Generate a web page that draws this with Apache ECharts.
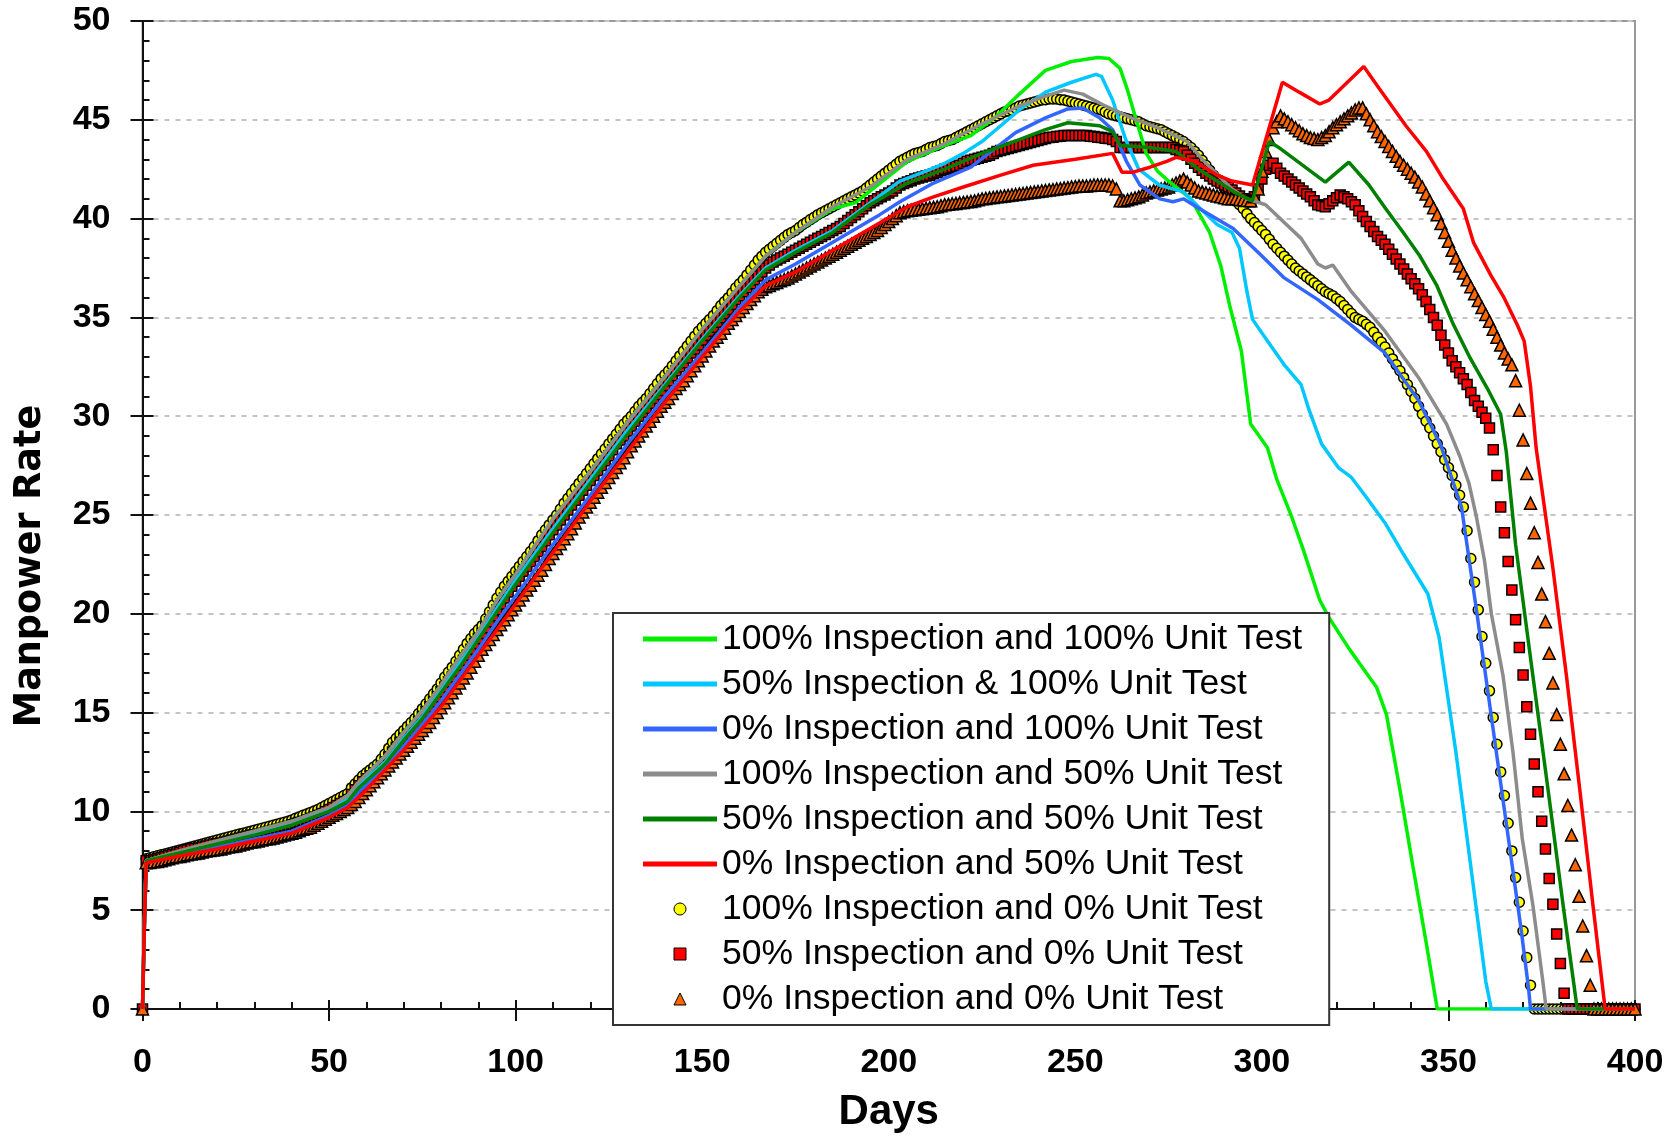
<!DOCTYPE html>
<html>
<head>
<meta charset="utf-8">
<title>Manpower Rate</title>
<script src="https://cdn.jsdelivr.net/npm/echarts@6/dist/echarts.min.js"></script>
<style>
  html, body { margin: 0; padding: 0; background: #fff; }
  #chart { width: 1679px; height: 1138px; }
</style>
</head>
<body>
<div id="chart"></div>
<script>
// axis ticks
let xTicks = [0, 50, 100, 150, 200, 250, 300, 350, 400]
let yTicks = [0, 5, 10, 15, 20, 25, 30, 35, 40, 45, 50]

let seriesNames = [
  '100% Inspection and 100% Unit Test',
  '50% Inspection & 100% Unit Test',
  '0% Inspection and 100% Unit Test',
  '100% Inspection and 50% Unit Test',
  '50% Inspection and 50% Unit Test',
  '0% Inspection and 50% Unit Test',
  '100% Inspection and 0% Unit Test',
  '50% Inspection and 0% Unit Test',
  '0% Inspection and 0% Unit Test'
]

// line series: [day, manpower rate]
let insp100ut100 = [[0,0],[0.5,4.2],[1,7.5],[10,8.0],[20,8.5],[30,9.0],[40,9.5],[50,10.2],[55,10.8],[58,11.5],[65,12.8],[70,14.0],[75,15.1],[80,16.4],[85,17.8],[90,19.1],[95,20.7],[100,22.0],[110,24.8],[120,27.2],[130,29.7],[140,32.0],[150,34.4],[160,36.6],[167,38.1],[175,39.3],[185,40.5],[191,40.8],[197,41.7],[205,42.9],[215,43.7],[222,44.2],[229,45.2],[235,46.3],[242,47.5],[249,47.95],[256,48.15],[259,48.1],[262,47.6],[264,46.5],[266,45.2],[269,43.3],[272,42.4],[275,41.9],[281,41.0],[286,39.3],[289,37.6],[291.5,35.5],[294.5,33.3],[297,29.6],[301.5,28.4],[304,26.8],[308,24.9],[311,23.3],[315.5,20.7],[318,19.8],[323.5,18.2],[328,17.0],[330.7,16.3],[333.4,14.9],[337,11.1],[340.5,7.2],[344,3.4],[347,0],[400,0]]

let insp50ut100 = [[0,0],[0.5,4.2],[1,7.5],[10,7.9],[20,8.4],[30,8.85],[40,9.35],[50,10.1],[55,10.6],[58,11.3],[65,12.5],[70,13.7],[75,14.8],[80,16.1],[85,17.5],[90,18.8],[95,20.3],[100,21.7],[110,24.3],[120,26.8],[130,29.3],[140,31.6],[150,33.9],[160,36.1],[167,37.5],[175,38.4],[185,39.4],[195,40.8],[203,41.9],[210,42.4],[215,42.8],[220,43.3],[225,43.9],[230,44.7],[235,45.5],[242,46.4],[249,46.9],[255.5,47.3],[257,47.2],[260,46.0],[263.5,44.0],[267,42.5],[272.5,41.7],[279,41.35],[283,40.6],[288,39.7],[292,39.3],[294,38.5],[296,36.3],[297.5,34.9],[301.5,33.8],[306,32.6],[310.5,31.6],[312.5,30.4],[316,28.6],[320.5,27.4],[324,26.9],[328,25.9],[333,24.6],[338,23.0],[344.5,21.0],[347.5,18.8],[352,13.0],[356,7.2],[360,1.4],[361.5,0],[400,0]]

let insp0ut100 = [[0,0],[0.5,4.2],[1,7.4],[10,7.8],[20,8.2],[30,8.6],[40,9.0],[50,9.8],[55,10.3],[58,11.0],[65,12.2],[70,13.3],[75,14.4],[80,15.6],[85,16.9],[90,18.2],[95,19.6],[100,20.9],[110,23.5],[120,26.0],[130,28.6],[140,31.0],[150,33.2],[160,35.5],[167,36.9],[175,37.7],[185,38.8],[197.6,40.2],[203,40.85],[212,41.8],[222,42.6],[234,44.35],[242,45.1],[248,45.55],[252,45.6],[256.5,45.1],[260,44.5],[263.7,42.9],[267.3,41.7],[272.6,41.0],[276.2,40.85],[279,41.0],[283.3,40.5],[292.3,39.5],[299.8,38.15],[306,37.0],[315,35.9],[324,34.6],[333,33.2],[342,30.8],[348,28.5],[353.5,25.4],[357.5,20.2],[361.5,14.8],[365.5,9.4],[369.5,4.0],[371.5,1.0],[372,0],[400,0]]

let insp100ut50 = [[0,0],[0.5,4.2],[1,7.5],[10,8.0],[20,8.5],[30,9.0],[40,9.5],[50,10.2],[55,10.8],[58,11.5],[65,12.8],[70,14.0],[75,15.1],[80,16.4],[85,17.8],[90,19.1],[95,20.7],[100,22.0],[110,24.8],[120,27.2],[130,29.7],[140,32.0],[150,34.4],[160,36.6],[167,38.1],[175,39.3],[185,40.6],[195,41.6],[205,43.0],[215,43.8],[225,44.8],[235,45.7],[242,46.2],[247,46.5],[252,46.3],[258,45.7],[265,45.1],[272,44.6],[280,43.9],[285,42.8],[292,41.5],[296,41.0],[301,40.7],[306,39.8],[310.5,39.0],[315,37.7],[317,37.5],[319,37.65],[324,36.3],[333,34.3],[342,31.95],[349.5,29.6],[353,28.0],[355.5,26.6],[357.5,24.9],[359.7,22.65],[361.5,20.0],[364.6,16.9],[367.3,13.0],[369.8,8.6],[372.6,5.3],[375.3,1.4],[376.2,0],[400,0]]

let insp50ut50 = [[0,0],[0.5,4.2],[1,7.5],[10,7.9],[20,8.35],[30,8.8],[40,9.3],[50,10.0],[55,10.5],[58,11.2],[65,12.4],[70,13.6],[75,14.7],[80,16.0],[85,17.3],[90,18.7],[95,20.1],[100,21.5],[110,24.1],[120,26.6],[130,29.1],[140,31.5],[150,33.8],[160,36.0],[167,37.4],[175,38.3],[185,39.3],[195,40.7],[205,41.8],[215,42.5],[225,43.3],[235,44.0],[242,44.5],[248,44.85],[256.5,44.7],[260,44.4],[262,43.7],[270,43.6],[277,43.4],[283,42.5],[288,41.9],[293,41.3],[297.5,40.9],[302,43.9],[304.5,43.6],[317,41.85],[323.3,42.86],[328.7,41.7],[333.2,40.5],[337.7,39.35],[342.2,38.15],[346.8,36.65],[351.3,34.65],[355.8,32.95],[360.3,31.45],[364,30.1],[365.5,28.2],[368,23.5],[372.6,16.9],[376.7,11.1],[380.7,5.3],[384.3,0.3],[384.6,0],[400,0]]

let insp0ut50 = [[0,0],[0.5,4.2],[1,7.4],[10,7.75],[20,8.1],[30,8.5],[40,8.9],[50,9.7],[55,10.2],[60,11.1],[70,13.1],[80,15.3],[90,17.9],[100,20.5],[110,23.1],[120,25.7],[130,28.2],[140,30.7],[150,33.0],[160,35.3],[167,36.6],[175,37.3],[185,38.4],[195,39.5],[205,40.6],[212,41.1],[220,41.6],[230,42.2],[238.7,42.7],[250,43.0],[260,43.3],[262.5,42.35],[265.5,42.35],[270,42.6],[274.5,42.9],[277,43.1],[282,42.9],[288,42.2],[292,41.9],[297.5,41.7],[305.5,46.9],[310,46.4],[315.5,45.8],[318,46.0],[327.3,47.7],[331.4,46.6],[338.6,44.7],[344.1,43.4],[348.6,42.0],[354,40.5],[356.7,38.8],[361.3,37.15],[364.9,36.0],[368.5,34.6],[370.3,33.8],[372,31.5],[373.5,28.4],[378,22.3],[381.6,16.9],[385.2,11.1],[388.7,5.3],[392,0],[400,0]]

// marker series: one value per day, index = day (0..400)
let insp100ut0 = [0,
  7.6,7.65,7.7,7.75,7.8,7.85,7.9,7.95,8.0,8.05,
  8.1,8.15,8.2,8.25,8.3,8.35,8.4,8.45,8.5,8.55,
  8.6,8.65,8.7,8.75,8.8,8.85,8.9,8.95,9.0,9.05,
  9.1,9.15,9.2,9.25,9.3,9.35,9.4,9.45,9.5,9.57,
  9.65,9.72,9.8,9.87,9.95,10.02,10.1,10.2,10.3,10.4,
  10.5,10.6,10.7,10.8,10.9,11.2,11.4,11.6,11.8,11.95,
  12.1,12.25,12.4,12.65,12.9,13.2,13.5,13.7,13.9,14.1,
  14.3,14.5,14.7,14.95,15.2,15.45,15.7,15.95,16.2,16.5,
  16.8,17.05,17.3,17.6,17.9,18.2,18.5,18.75,19.0,19.2,
  19.4,19.75,20.1,20.45,20.8,21.1,21.4,21.65,21.9,22.15,
  22.4,22.65,22.9,23.15,23.4,23.7,24.0,24.25,24.5,24.75,
  25.0,25.3,25.6,25.85,26.1,26.35,26.6,26.85,27.1,27.35,
  27.6,27.85,28.1,28.35,28.6,28.85,29.1,29.35,29.6,29.8,
  30.0,30.25,30.5,30.7,30.9,31.15,31.4,31.65,31.9,32.1,
  32.3,32.55,32.8,33.05,33.3,33.55,33.8,34.05,34.3,34.5,
  34.7,34.9,35.1,35.35,35.6,35.8,36.0,36.25,36.5,36.7,
  36.9,37.15,37.4,37.65,37.9,38.1,38.3,38.45,38.6,38.75,
  38.9,39.05,39.2,39.3,39.4,39.55,39.7,39.82,39.95,40.07,
  40.2,40.3,40.4,40.5,40.6,40.7,40.8,40.9,41.0,41.1,
  41.2,41.3,41.4,41.55,41.7,41.85,42.0,42.15,42.3,42.45,
  42.6,42.75,42.9,43.0,43.1,43.2,43.3,43.35,43.4,43.5,
  43.6,43.65,43.7,43.8,43.9,43.95,44.0,44.1,44.2,44.3,
  44.4,44.5,44.6,44.7,44.8,44.9,45.0,45.1,45.2,45.3,
  45.4,45.45,45.5,45.6,45.7,45.75,45.8,45.85,45.9,45.95,
  46.0,46.02,46.05,46.05,46.05,46.02,46.0,45.95,45.9,45.85,
  45.8,45.75,45.7,45.65,45.6,45.55,45.5,45.4,45.3,45.25,
  45.2,45.15,45.1,45.05,45.0,44.95,44.9,44.8,44.7,44.65,
  44.6,44.55,44.5,44.4,44.3,44.2,44.1,44.0,43.9,43.75,
  43.6,43.4,43.2,42.95,42.7,42.45,42.2,42.0,41.8,41.55,
  41.3,41.1,40.9,40.7,40.5,40.25,40.0,39.8,39.6,39.4,
  39.2,38.95,38.7,38.5,38.3,38.1,37.9,37.7,37.5,37.35,
  37.2,37.05,36.9,36.75,36.6,36.45,36.3,36.2,36.1,35.95,
  35.8,35.6,35.4,35.2,35.0,34.9,34.8,34.65,34.5,34.25,
  34.0,33.75,33.5,33.2,32.9,32.6,32.3,31.95,31.6,31.25,
  30.9,30.5,30.1,29.75,29.4,29.0,28.6,28.2,27.8,27.4,
  27.0,26.5,26.0,25.4,24.2,22.8,21.6,20.2,18.85,17.5,
  16.1,14.75,13.4,12.0,10.8,9.4,8.0,6.65,5.4,3.95,
  2.6,1.2,0,0,0,0,0,0,0,0,
  0,0,0,0,0,0,0,0,0,0,
  0,0,0,0,0,0,0,0,0,0]

let insp50ut0 = [0,
  7.5,7.52,7.55,7.6,7.65,7.7,7.75,7.8,7.85,7.92,
  8.0,8.05,8.1,8.12,8.15,8.2,8.25,8.3,8.35,8.37,
  8.4,8.45,8.5,8.55,8.6,8.65,8.7,8.75,8.8,8.82,
  8.85,8.9,8.95,9.0,9.05,9.1,9.15,9.2,9.25,9.32,
  9.4,9.45,9.5,9.57,9.65,9.72,9.8,9.9,10.0,10.1,
  10.2,10.3,10.4,10.5,10.6,10.85,11.1,11.3,11.5,11.65,
  11.8,11.95,12.1,12.3,12.5,12.75,13.0,13.25,13.5,13.7,
  13.9,14.1,14.3,14.55,14.8,15.05,15.3,15.55,15.8,16.05,
  16.3,16.55,16.8,17.1,17.4,17.65,17.9,18.2,18.5,18.75,
  19.0,19.3,19.6,19.9,20.2,20.5,20.8,21.1,21.4,21.65,
  21.9,22.15,22.4,22.65,22.9,23.15,23.4,23.7,24.0,24.25,
  24.5,24.75,25.0,25.25,25.5,25.75,26.0,26.25,26.5,26.75,
  27.0,27.25,27.5,27.75,28.0,28.3,28.6,28.8,29.0,29.25,
  29.5,29.75,30.0,30.2,30.4,30.65,30.9,31.1,31.3,31.55,
  31.8,32.05,32.3,32.5,32.7,32.95,33.2,33.4,33.6,33.85,
  34.1,34.3,34.5,34.75,35.0,35.2,35.4,35.65,35.9,36.1,
  36.3,36.5,36.7,36.9,37.1,37.3,37.5,37.65,37.8,37.9,
  38.0,38.1,38.2,38.3,38.4,38.5,38.6,38.7,38.8,38.9,
  39.0,39.1,39.2,39.3,39.4,39.5,39.6,39.75,39.9,40.05,
  40.2,40.35,40.5,40.65,40.8,40.9,41.0,41.1,41.2,41.3,
  41.4,41.55,41.7,41.77,41.85,41.92,42.0,42.05,42.1,42.15,
  42.2,42.27,42.35,42.42,42.5,42.55,42.6,42.65,42.7,42.8,
  42.9,42.95,43.0,43.05,43.1,43.15,43.2,43.3,43.4,43.45,
  43.5,43.55,43.6,43.65,43.7,43.75,43.8,43.85,43.9,43.95,
  44.0,44.05,44.1,44.12,44.15,44.17,44.2,44.2,44.2,44.2,
  44.2,44.2,44.2,44.17,44.15,44.12,44.1,44.07,44.05,44.0,
  43.9,43.6,43.6,43.6,43.6,43.6,43.6,43.6,43.6,43.6,
  43.6,43.6,43.6,43.6,43.6,43.6,43.5,43.45,43.4,43.2,
  43.0,42.8,42.6,42.45,42.3,42.15,42.0,41.9,41.8,41.7,
  41.6,41.45,41.3,41.15,41.0,40.9,40.85,41.1,41.5,42.0,
  42.5,42.7,42.8,42.55,42.3,42.15,42.0,41.85,41.7,41.55,
  41.4,41.25,41.1,40.9,40.7,40.65,40.6,40.75,40.9,41.05,
  41.2,41.1,41.0,40.85,40.7,40.4,40.1,39.85,39.6,39.35,
  39.1,38.9,38.7,38.45,38.2,37.95,37.7,37.45,37.2,36.95,
  36.7,36.45,36.15,35.8,35.4,35.0,34.6,34.1,33.6,33.2,
  32.8,32.5,32.2,31.9,31.6,31.2,30.8,30.5,30.2,29.9,
  29.4,28.3,27.0,25.4,24.1,22.65,21.2,19.7,18.3,16.9,
  15.3,13.9,12.4,11.0,9.5,8.1,6.6,5.3,3.8,2.3,
  0.8,0,0,0,0,0,0,0,0,0,
  0,0,0,0,0,0,0,0,0,0]

let insp0ut0 = [0,
  7.4,7.42,7.45,7.47,7.5,7.55,7.6,7.65,7.7,7.72,
  7.75,7.8,7.85,7.87,7.9,7.95,8.0,8.02,8.05,8.07,
  8.1,8.15,8.2,8.22,8.25,8.3,8.35,8.4,8.45,8.47,
  8.5,8.55,8.6,8.62,8.65,8.7,8.75,8.8,8.85,8.9,
  8.95,9.02,9.1,9.15,9.2,9.3,9.4,9.5,9.6,9.7,
  9.8,9.9,10.0,10.1,10.2,10.35,10.5,10.7,10.9,11.1,
  11.3,11.5,11.7,11.9,12.1,12.3,12.5,12.7,12.9,13.1,
  13.3,13.5,13.7,13.9,14.1,14.3,14.5,14.75,15.0,15.25,
  15.5,15.75,16.0,16.25,16.5,16.75,17.0,17.3,17.6,17.9,
  18.2,18.45,18.7,18.95,19.2,19.45,19.7,19.95,20.2,20.45,
  20.7,20.95,21.2,21.45,21.7,21.95,22.2,22.5,22.8,23.05,
  23.3,23.55,23.8,24.05,24.3,24.6,24.9,25.15,25.4,25.65,
  25.9,26.15,26.4,26.65,26.9,27.15,27.4,27.65,27.9,28.2,
  28.5,28.75,29.0,29.25,29.5,29.75,30.0,30.25,30.5,30.7,
  30.9,31.15,31.4,31.6,31.8,32.05,32.3,32.55,32.8,33.05,
  33.3,33.55,33.8,34.0,34.2,34.45,34.7,34.9,35.1,35.3,
  35.5,35.7,35.9,36.1,36.3,36.42,36.55,36.62,36.7,36.77,
  36.85,36.92,37.0,37.1,37.2,37.3,37.4,37.5,37.6,37.7,
  37.8,37.9,38.0,38.1,38.2,38.3,38.4,38.5,38.6,38.7,
  38.8,38.9,39.0,39.1,39.2,39.3,39.4,39.55,39.7,39.85,
  40.0,40.15,40.3,40.35,40.4,40.42,40.45,40.47,40.5,40.52,
  40.55,40.57,40.6,40.65,40.7,40.72,40.75,40.77,40.8,40.82,
  40.85,40.87,40.9,40.95,41.0,41.02,41.05,41.07,41.1,41.12,
  41.15,41.17,41.2,41.22,41.25,41.27,41.3,41.32,41.35,41.37,
  41.4,41.42,41.45,41.47,41.5,41.52,41.55,41.57,41.6,41.62,
  41.65,41.65,41.65,41.67,41.7,41.7,41.7,41.7,41.7,41.65,
  41.5,40.9,40.9,40.95,41.0,41.05,41.1,41.2,41.3,41.35,
  41.4,41.45,41.5,41.55,41.6,41.7,41.8,41.9,42.0,41.85,
  41.7,41.55,41.4,41.35,41.3,41.25,41.2,41.15,41.1,41.05,
  41.0,41.0,41.0,40.97,40.95,40.92,40.9,41.1,41.5,42.4,
  43.4,44.0,44.6,44.9,45.2,45.05,44.9,44.75,44.6,44.45,
  44.3,44.2,44.1,44.05,44.0,44.1,44.2,44.4,44.6,44.75,
  44.9,45.05,45.2,45.35,45.5,45.6,45.6,45.3,45.0,44.7,
  44.4,44.15,43.9,43.65,43.4,43.15,42.9,42.7,42.5,42.3,
  42.1,41.85,41.6,41.25,40.9,40.55,40.2,39.75,39.3,38.85,
  38.4,38.0,37.6,37.25,36.9,36.55,36.2,35.85,35.5,35.15,
  34.8,34.4,34.0,33.6,33.2,32.9,32.6,31.8,30.3,28.8,
  27.1,25.6,24.1,22.6,21.0,19.6,18.0,16.5,14.9,13.4,
  11.9,10.3,8.8,7.3,5.7,4.2,2.7,1.2,0,0,
  0,0,0,0,0,0,0,0,0,0]

let lineColors = ['#00ee00', '#00c8ff', '#3366ff', '#8c8c8c', '#008000', '#ff0000']
let markerColors = ['#ffff00', '#ff0000', '#ff6600']
let markerShapes = ['circle', 'rect', 'triangle']
let markerSizes = [10, 10, 12]

let lineData = [insp100ut100, insp50ut100, insp0ut100, insp100ut50, insp50ut50, insp0ut50]
let markerData = [insp100ut0, insp50ut0, insp0ut0]

let myChart = echarts.init(document.getElementById('chart'))

let series = []
lineData.forEach(function (d, i) {
  series.push({
    name: seriesNames[i],
    type: 'line',
    data: d,
    symbol: 'none',
    color: lineColors[i],
    lineStyle: { width: 3.5, color: lineColors[i] },
    itemStyle: { color: lineColors[i], borderWidth: 0 },
    animation: false
  })
})
markerData.forEach(function (vals, i) {
  series.push({
    name: seriesNames[6 + i],
    type: 'scatter',
    data: vals.map(function (v, day) { return [day, v] }),
    symbol: markerShapes[i],
    symbolSize: markerSizes[i],
    itemStyle: { color: markerColors[i], borderColor: '#000', borderWidth: 1.5, opacity: 1 },
    animation: false
  })
})

let lineIcon = 'path://M0,0L74,0L74,5L0,5Z'
let legendIcons = [lineIcon, lineIcon, lineIcon, lineIcon, lineIcon, lineIcon,
  'circle', 'path://M0,0L10,0L10,10L0,10Z', 'path://M6,0L12,12L0,12Z']
let legendData = seriesNames.map(function (n, i) {
  return {
    name: n,
    icon: legendIcons[i],
    itemStyle: i < 6 ? { borderWidth: 0 } : { borderWidth: 1, borderColor: '#000' }
  }
})

let tickFont = { fontFamily: '"Liberation Sans", Arial, sans-serif', fontWeight: 'bold', fontSize: 34, color: '#000' }

let option = {
  animation: false,
  backgroundColor: '#fff',
  grid: {
    left: 142.5, top: 21, width: 1492.5, height: 992.5,
    show: true, borderColor: '#999', borderWidth: 2, backgroundColor: 'transparent'
  },
  legend: {
    data: legendData,
    orient: 'vertical',
    left: 613,
    top: 613,
    padding: [8, 27, 8, 30],
    itemGap: 9,
    itemWidth: 74,
    itemHeight: 12,
    itemTextGap: 4,
    backgroundColor: '#fff',
    borderColor: '#333',
    borderWidth: 2,
    selectedMode: false,
    textStyle: { fontFamily: '"Liberation Sans", Arial, sans-serif', fontSize: 35.5, color: '#000' }
  },
  xAxis: [{
    type: 'value',
    min: xTicks[0],
    max: xTicks[xTicks.length - 1],
    interval: xTicks[1] - xTicks[0],
    position: 'bottom',
    name: 'Days',
    nameLocation: 'middle',
    nameGap: 82,
    nameTextStyle: { fontFamily: '"Liberation Sans", Arial, sans-serif', fontWeight: 'bold', fontSize: 42, color: '#000' },
    axisLine: { show: true, lineStyle: { color: '#111', width: 2 } },
    axisTick: { show: true, inside: true, length: 9, lineStyle: { color: '#111', width: 2 } },
    minorTick: { show: true, splitNumber: 5, length: 7, lineStyle: { color: '#111', width: 2 } },
    axisLabel: Object.assign({ margin: 37 }, tickFont),
    splitLine: { show: false }
  }, {
    type: 'value',
    min: xTicks[0],
    max: xTicks[xTicks.length - 1],
    interval: xTicks[1] - xTicks[0],
    position: 'bottom',
    axisLine: { show: false },
    axisTick: { show: true, inside: false, length: 12, lineStyle: { color: '#111', width: 2 } },
    axisLabel: { show: false },
    splitLine: { show: false }
  }],
  yAxis: [{
    type: 'value',
    min: yTicks[0],
    max: yTicks[yTicks.length - 1],
    interval: yTicks[1] - yTicks[0],
    position: 'left',
    axisLine: { show: true, lineStyle: { color: '#111', width: 2 } },
    axisTick: { show: true, inside: true, length: 11, lineStyle: { color: '#111', width: 2 } },
    minorTick: { show: true, splitNumber: 5, length: 7, lineStyle: { color: '#111', width: 2 } },
    axisLabel: Object.assign({ margin: 32 }, tickFont),
    splitLine: { show: true, lineStyle: { color: '#c4c4c4', width: 2, type: [5, 6] } }
  }, {
    type: 'value',
    min: yTicks[0],
    max: yTicks[yTicks.length - 1],
    interval: yTicks[1] - yTicks[0],
    position: 'left',
    axisLine: { show: false },
    axisTick: { show: true, inside: false, length: 12, lineStyle: { color: '#111', width: 2 } },
    axisLabel: { show: false },
    splitLine: { show: false }
  }],
  graphic: [{
    type: 'text',
    x: 31,
    y: 566,
    rotation: Math.PI / 2,
    style: {
      text: 'Manpower Rate',
      font: 'bold 36.5px "DejaVu Sans", sans-serif',
      fill: '#000',
      textAlign: 'center',
      textVerticalAlign: 'middle'
    }
  }],
  series: series
}

myChart.setOption(option)
</script>
</body>
</html>
